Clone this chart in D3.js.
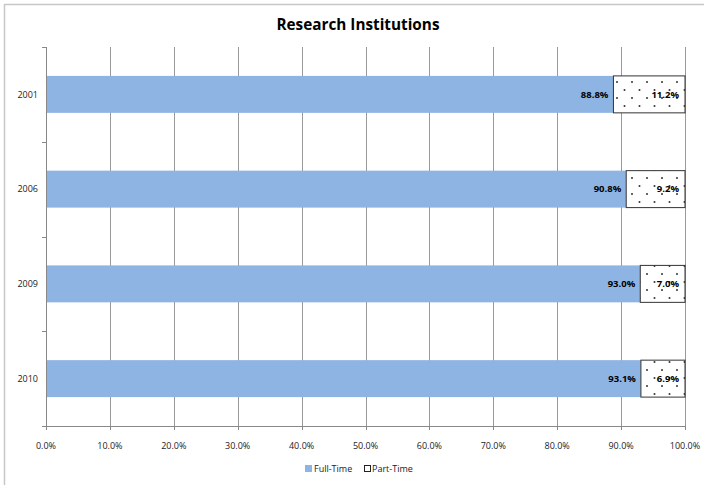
<!DOCTYPE html>
<html><head><meta charset="utf-8">
<script src="https://cdn.jsdelivr.net/npm/d3@7/dist/d3.min.js"></script>
<style>body{margin:0;background:#fff;}svg{display:block;font-family:"Open Sans","Liberation Sans",sans-serif;}</style>
</head><body>
<script>
const categories = ["2001","2006","2009","2010"];
const fullTime = [88.8, 90.8, 93.0, 93.1];
const partTime = [11.2, 9.2, 7.0, 6.9];
const xTicks = [0,10,20,30,40,50,60,70,80,90,100];
const seriesNames = ["Full-Time","Part-Time"];

const W = 704, H = 485;
const svg = d3.select("body").append("svg").attr("width", W).attr("height", H);
const defs = svg.append("defs");
const pat = defs.append("pattern").attr("id","dots").attr("patternUnits","userSpaceOnUse")
  .attr("width",15).attr("height",16).attr("x",0).attr("y",0);
pat.append("rect").attr("width",15).attr("height",16).attr("fill","#fff");
pat.append("circle").attr("cx",2).attr("cy",2).attr("r",1).attr("fill","#333");
pat.append("circle").attr("cx",9.5).attr("cy",10).attr("r",1).attr("fill","#333");

// outer border
svg.append("rect").attr("x",4.5).attr("y",4.5).attr("width",W+10).attr("height",H+10)
  .attr("fill","none").attr("stroke","#c8c8c8").attr("stroke-width",1.5);

const m = {l:46, r:685, t:47, b:426};
const x = d3.scaleLinear().domain([0,100]).range([m.l, m.r]);
const y = d3.scaleBand().domain(categories).range([m.t, m.b]).paddingInner(0.61).paddingOuter(0.305);

// gridlines
svg.append("g").selectAll("line").data(xTicks.slice(1)).join("line")
  .attr("x1",d=>Math.round(x(d))+0.5).attr("x2",d=>Math.round(x(d))+0.5)
  .attr("y1",m.t).attr("y2",m.b).attr("stroke","#999").attr("stroke-width",1);

// bars
const g = svg.append("g");
categories.forEach((c,i)=>{
  g.append("rect").attr("x",x(0)).attr("y",y(c)).attr("width",x(fullTime[i])-x(0)).attr("height",y.bandwidth())
    .attr("fill","#8eb4e3");
  g.append("rect").attr("x",x(fullTime[i])).attr("y",y(c)).attr("width",x(100)-x(fullTime[i])).attr("height",y.bandwidth())
    .attr("fill","url(#dots)").attr("stroke","#333").attr("stroke-width",1);
  g.append("text").attr("x",x(fullTime[i])-5).attr("y",y(c)+y.bandwidth()/2).attr("dy","0.35em")
    .attr("text-anchor","end").attr("font-size",9.5).attr("font-weight","bold").attr("fill","#000")
    .text(fullTime[i].toFixed(1)+"%");
  g.append("text").attr("x",x(100)-6).attr("y",y(c)+y.bandwidth()/2).attr("dy","0.35em")
    .attr("text-anchor","end").attr("font-size",9.5).attr("font-weight","bold").attr("fill","#000")
    .text(partTime[i].toFixed(1)+"%");
});

// y axis
const yAxis = svg.append("g");
yAxis.append("line").attr("x1",m.l+0.5).attr("x2",m.l+0.5).attr("y1",m.t).attr("y2",m.b).attr("stroke","#888");
const step = (m.b-m.t)/categories.length;
d3.range(categories.length+1).forEach(k=>{
  const yy = Math.round(m.t + k*step)+0.5;
  yAxis.append("line").attr("x1",m.l-4).attr("x2",m.l).attr("y1",yy).attr("y2",yy).attr("stroke","#888");
});
yAxis.selectAll("text").data(categories).join("text")
  .attr("x",m.l-8).attr("y",d=>y(d)+y.bandwidth()/2).attr("dy","0.35em").attr("text-anchor","end")
  .attr("font-size",9).attr("fill","#222").text(d=>d);

// x axis
const xAxis = svg.append("g");
xAxis.append("line").attr("x1",m.l).attr("x2",m.r).attr("y1",m.b+0.5).attr("y2",m.b+0.5).attr("stroke","#888");
xAxis.selectAll("line.t").data(xTicks).join("line").attr("class","t")
  .attr("x1",d=>Math.round(x(d))+0.5).attr("x2",d=>Math.round(x(d))+0.5).attr("y1",m.b).attr("y2",m.b+4).attr("stroke","#888");
xAxis.selectAll("text").data(xTicks).join("text")
  .attr("x",d=>x(d)).attr("y",446).attr("dy","0.35em").attr("text-anchor","middle")
  .attr("font-size",9).attr("fill","#222").text(d=>d.toFixed(1)+"%");

// title
svg.append("text").attr("x",358).attr("y",25).attr("dy","0.35em").attr("text-anchor","middle")
  .attr("font-size",15.3).attr("font-weight","bold").attr("fill","#000").text("Research Institutions");

// legend
const lg = svg.append("g");
lg.append("rect").attr("x",305).attr("y",465).attr("width",7).attr("height",7).attr("fill","#8eb4e3");
lg.append("text").attr("x",314).attr("y",469).attr("dy","0.35em").attr("font-size",9).attr("fill","#222").text(seriesNames[0]);
lg.append("rect").attr("x",364.5).attr("y",465.5).attr("width",6).attr("height",6).attr("fill","#fff").attr("stroke","#222");
lg.append("text").attr("x",372).attr("y",469).attr("dy","0.35em").attr("font-size",9).attr("fill","#222").text(seriesNames[1]);
</script>
</body></html>
